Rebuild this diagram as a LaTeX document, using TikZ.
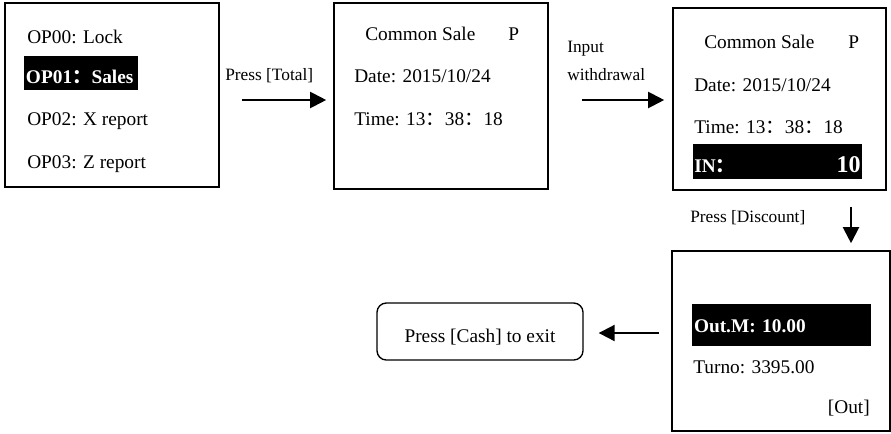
\documentclass[tikz,border=0pt]{standalone}
\usepackage{fontspec}
\setmainfont{Liberation Serif}
\newfontfamily\cjk{Noto Sans CJK SC}
\usetikzlibrary{arrows.meta,calc}
\newcommand{\fcolon}{{\cjk ：}}

\begin{document}
\begin{tikzpicture}[
  x=0.75pt, y=-0.75pt,
  font=\fontsize{14.5}{17}\selectfont,
  >={Triangle[length=12pt,width=12pt]},
  screen/.style={draw, line width=1.2pt, inner sep=0pt},
  txt/.style={anchor=base west, inner sep=0pt},
  note/.style={txt, font=\fontsize{13}{15}\selectfont},
  hilite/.style={fill=black, text=white, font=\fontsize{14.5}{17}\selectfont\bfseries,
    inner xsep=1.5pt, inner ysep=0pt, align=left},
  exitbox/.style={draw, rounded corners=7pt, line width=1pt, inner sep=0pt},
  flow/.style={->, line width=1.5pt}
]
  \useasboundingbox (0,0) rectangle (891,433);
  \coordinate (row) at (0,100);
  \coordinate (col) at (851,0);
  \coordinate (low) at (0,333);

  \node[screen, minimum width=160.5pt, minimum height=138pt] (menu) at (112,95) {};
  \node[txt] (op00) at (27,43) {OP00: Lock};
  \node[hilite, text width=82.5pt, text height=17pt, text depth=2pt, minimum height=25.5pt] (op01) at (81,73) {OP01\fcolon Sales};
  \node[txt] (op02) at (27,125) {OP02: X report};
  \node[txt] (op03) at (27,168) {OP03: Z report};

  \node[screen, minimum width=160.5pt, minimum height=139.5pt] (sale) at (441,96) {};
  \node[txt] (title) at (365,40) {Common Sale};
  \node[txt] (mode) at (508,40) {P};
  \node[txt] (date) at (354,82) {Date: 2015/10/24};
  \node[txt] (time) at (354,125) {Time: 13\fcolon 38\fcolon 18};

  \node[screen, minimum width=159.75pt, minimum height=136.5pt] (inwin) at (779.5,99) {};
  \node[txt] (title2) at (704,48) {Common Sale};
  \node[txt] (mode2) at (848,48) {P};
  \node[txt] (date2) at (694,91) {Date: 2015/10/24};
  \node[txt] (time2) at (694,133) {Time: 13\fcolon 38\fcolon 18};
  \node[hilite, text width=124.75pt, inner xsep=1pt, text height=18pt, text depth=0.8pt, minimum height=26.25pt] (inbar) at (777.5,161.5) {IN\fcolon\hfill{\fontsize{18}{18}\selectfont 10}};

  \node[screen, minimum width=163.5pt, minimum height=135pt] (outwin) at (781,341) {};
  \node[hilite, text width=131.25pt, text height=13pt, text depth=2.5pt, minimum height=31.5pt] (outbar) at (781.5,325) {Out.M: 10.00};
  \node[txt] (turno) at (693,373) {Turno: 3395.00};
  \node[txt, anchor=base east] (outkey) at (870,413) {[Out]};

  \node[exitbox, minimum width=154.5pt, minimum height=42.75pt, text height=17pt, text depth=0pt] (exit) at (480,331.5) {Press [Cash] to exit};

  \node[note] (total) at (225,80) {Press [Total]};
  \node[note] (input) at (567,52) {Input};
  \node[note] (withdraw) at (567,80) {withdrawal};
  \node[note] (discount) at (690,222) {Press [Discount]};

  \draw[flow, shorten <=16.5pt, shorten >=5.25pt] (menu.east |- row) -- (sale.west |- row);
  \draw[flow, shorten <=24.75pt, shorten >=6pt] (sale.east |- row) -- (inwin.west |- row);
  \draw[flow, shorten <=12pt, shorten >=5.25pt] (inwin.south -| col) -- (outwin.north -| col);
  \draw[flow, shorten <=9pt, shorten >=11.25pt] (outwin.west |- low) -- (exit.east |- low);
\end{tikzpicture}
\end{document}
